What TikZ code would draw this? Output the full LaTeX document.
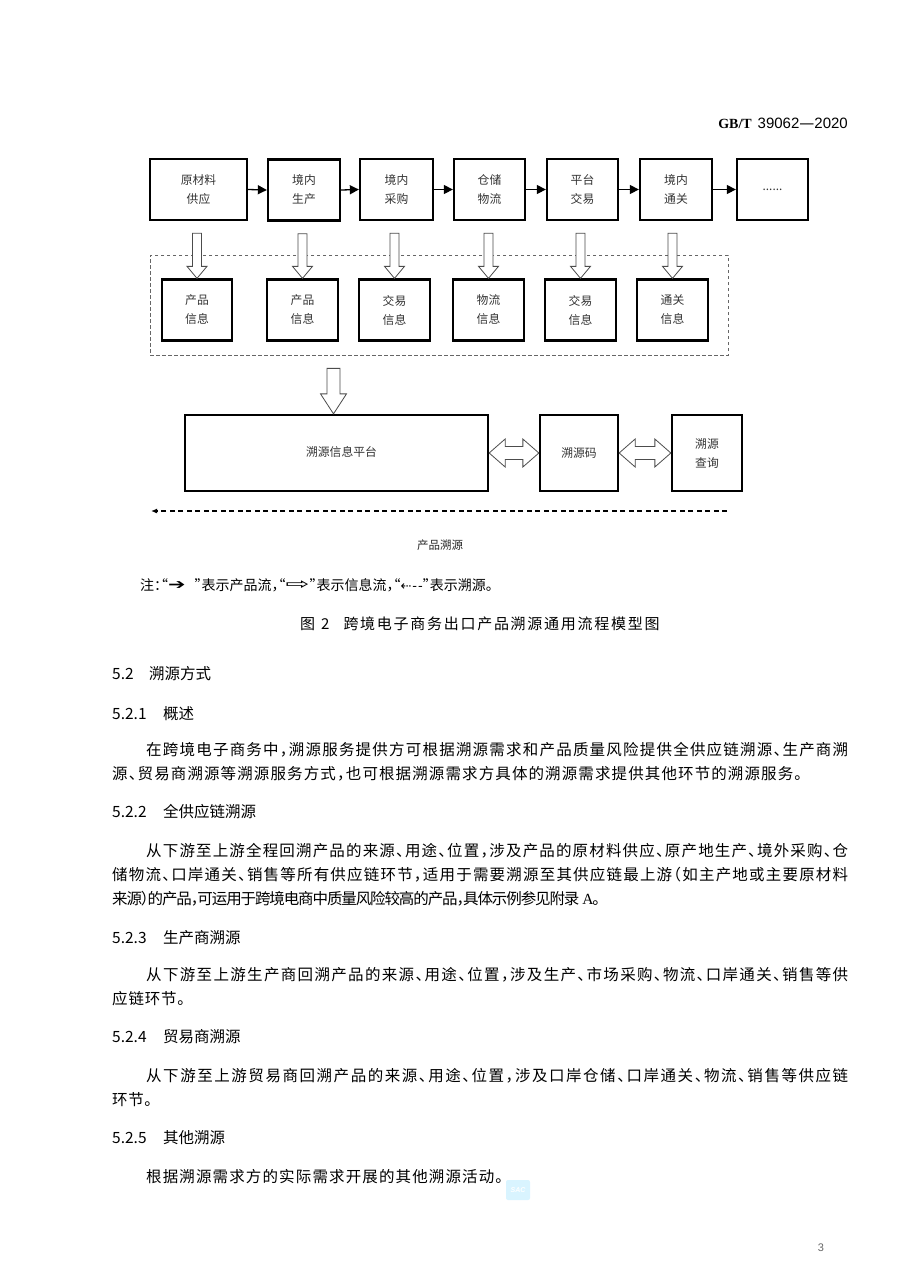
\documentclass[tikz,border=0pt]{standalone}
\usepackage{fontspec}
\setmainfont{Liberation Serif}
\newfontfamily\cjk[RawFeature=+halt]{Noto Sans CJK SC}
\newfontfamily\symf{DejaVu Sans}
\newfontfamily\lsans{Liberation Sans}
\usetikzlibrary{arrows.meta,calc}

\makeatletter
\def\jendmark{\jendmark}
\def\jfirst#1{#1\jrest}
\def\jrest#1{\def\jtmp{#1}\ifx\jtmp\jendmark\else\hskip0pt plus 1fil minus 0.3em\relax#1\expandafter\jrest\fi}
\newcommand\jl[2]{\hbox to #1{\jfirst#2\jendmark}}
\makeatother

\newcommand\hdown[5]{%
  \draw[hollow] let \p1=(#1), \p2=(#2) in
   (\x2-#3,\y1) -- (\x2+#3,\y1) -- (\x2+#3,\y2+#5) -- (\x2+#4,\y2+#5) -- (\x2,\y2)
   -- (\x2-#4,\y2+#5) -- (\x2-#3,\y2+#5) -- cycle;}
\newcommand\hdouble[5]{%
  \draw[hollow] let \p1=(#1), \p2=(#2) in
   (\x1,\y1) -- (\x1+#5,\y1+#4) -- (\x1+#5,\y1+#3) -- (\x2-#5,\y1+#3) -- (\x2-#5,\y1+#4)
   -- (\x2,\y1) -- (\x2-#5,\y1-#4) -- (\x2-#5,\y1-#3) -- (\x1+#5,\y1-#3) -- (\x1+#5,\y1-#4) -- cycle;}

\tikzset{
  pbox/.style={draw, line width=2.3pt, inner sep=0pt, align=center,
    font=\cjk\fontsize{11.8}{19}\selectfont, text=black!80},
  topbox/.style={pbox, minimum height=61pt},
  infobox/.style={pbox, minimum width=70pt, minimum height=61pt},
  hollow/.style={draw=black!70, line width=0.8pt, fill=white, line join=miter},
  parr/.style={line width=1.3pt, -{Triangle[length=9pt,width=9pt]}},
  grpbox/.style={draw=black!60, dashed, dash pattern=on 3.5pt off 2.5pt, line width=0.7pt, inner sep=0pt},
  trace/.style={line width=1.2pt, dash pattern=on 5pt off 3.5pt, -{Latex[length=6pt,width=5pt]}},
  body/.style={anchor=west, inner sep=0pt, font=\cjk\fontsize{15.5}{18}\selectfont},
  head/.style={anchor=west, inner sep=0pt, font=\cjk\fontsize{15.5}{18}\selectfont},
  small/.style={inner sep=0pt, font=\cjk\fontsize{11.5}{14}\selectfont, text=black!85},
}

\begin{document}
\begin{tikzpicture}[x=1pt,y=-1pt]
\useasboundingbox[fill=white] (0,0) rectangle (922,1280);

% header
\node[anchor=east, inner sep=0pt] (hdr) at (848,123)
  {{\fontsize{14}{16}\selectfont\bfseries GB/T}\hspace{6pt}{\lsans\fontsize{15}{16}\selectfont 39062\symf—\lsans 2020}};

% top row
\node[topbox, minimum width=97pt] (b1) at (198.5,189.5) {原材料\\供应};
\node[topbox, minimum width=72pt] (b2) at (304,190) {境内\\生产};
\node[topbox, minimum width=73pt] (b3) at (396.5,189.5) {境内\\采购};
\node[topbox, minimum width=71pt] (b4) at (489.5,189.5) {仓储\\物流};
\node[topbox, minimum width=71pt] (b5) at (582.5,189.5) {平台\\交易};
\node[topbox, minimum width=72pt] (b6) at (676,189.5) {境内\\通关};
\node[topbox, minimum width=71pt] (b7) at (772.5,189.5) {......};

\draw[parr] (b1.east) -- (b2.west);
\draw[parr] (b2.east) -- (b3.west);
\draw[parr] (b3.east) -- (b4.west);
\draw[parr] (b4.east) -- (b5.west);
\draw[parr] (b5.east) -- (b6.west);
\draw[parr] (b6.east) -- (b7.west);

% information group
\node[grpbox, minimum width=578pt, minimum height=100pt] (grp) at (439,305) {};
\node[infobox] (i1) at (197,310) {产品\\信息};
\node[infobox, minimum width=71pt] (i2) at (302.5,310) {产品\\信息};
\node[infobox, minimum width=71pt] (i3) at (394.5,310) {交易\\信息};
\node[infobox, minimum width=71pt] (i4) at (488.5,310) {物流\\信息};
\node[infobox, minimum width=71pt] (i5) at (580.5,310) {交易\\信息};
\node[infobox, minimum width=71pt] (i6) at (672.5,310) {通关\\信息};

\hdown{$(b1.south)+(0,12)$}{i1.north}{4.5pt}{10pt}{12pt}
\hdown{$(b2.south)+(0,12)$}{i2.north}{4.5pt}{10pt}{12pt}
\hdown{$(b3.south)+(0,12)$}{i3.north}{4.5pt}{10pt}{12pt}
\hdown{$(b4.south)+(0,12)$}{i4.north}{4.5pt}{10pt}{12pt}
\hdown{$(b5.south)+(0,12)$}{i5.north}{4.5pt}{10pt}{12pt}
\hdown{$(b6.south)+(0,12)$}{i6.north}{4.5pt}{10pt}{12pt}

% platform row
\node[pbox, minimum width=303pt, minimum height=76pt] (P) at (336.5,453) {\raisebox{4pt}{\hspace*{10pt}溯源信息平台}};
\node[pbox, minimum width=78pt, minimum height=76pt] (C) at (579,453) {溯源码};
\node[pbox, minimum width=70pt, minimum height=76pt] (Q) at (707,453) {溯源\\查询};

\hdown{$(grp.south)+(0,13)$}{$(P.north)+(-3,0)$}{6.5pt}{13pt}{20pt}
\hdouble{P.east}{C.west}{6.5pt}{14pt}{16pt}
\hdouble{C.east}{Q.west}{6.5pt}{14pt}{16pt}

\coordinate (trS) at (727,511);
\coordinate (trE) at (151,511);
\draw[trace] (trS) -- (trE);
\node[small] (lbl) at (440,545) {产品溯源};

% note
\node[anchor=west, inner sep=0pt, font=\cjk\fontsize{14}{16}\selectfont] (note) at (140,585)
  {注：“\raisebox{0.5pt}{\scalebox{1.6}[1.1]{\symf\fontsize{13}{14}\selectfont ➔}}\hspace{9pt}”表示产品流，“\raisebox{0.5pt}{\scalebox{2.2}[1.2]{\symf\fontsize{13}{14}\selectfont ⇨}}”表示信息流，“{\symf\fontsize{13}{14}\selectfont ⇠\hspace{1pt}-\hspace{1pt}-}”表示溯源。};

% caption
\node[anchor=west, inner sep=0pt, font=\cjk\fontsize{15}{16}\selectfont] (cap) at (300,624)
  {图\hspace{6pt}2\hspace{14pt}\jl{316pt}{跨境电子商务出口产品溯源通用流程模型图}};

% body text
\node[head] (h52) at (112,674) {\makebox[37pt][l]{5.2}溯源方式};
\node[head] (h521) at (112,714) {\makebox[51pt][l]{5.2.1}概述};
\node[body] (p1a) at (146,750) {\jl{702pt}{在跨境电子商务中，溯源服务提供方可根据溯源需求和产品质量风险提供全供应链溯源、生产商溯}};
\node[body] (p1b) at (112,774) {\jl{690pt}{源、贸易商溯源等溯源服务方式，也可根据溯源需求方具体的溯源需求提供其他环节的溯源服务。}};

\node[head] (h522) at (112,812) {\makebox[51pt][l]{5.2.2}全供应链溯源};
\node[body] (p2a) at (146,851) {\jl{702pt}{从下游至上游全程回溯产品的来源、用途、位置，涉及产品的原材料供应、原产地生产、境外采购、仓}};
\node[body] (p2b) at (112,875) {\jl{736pt}{储物流、口岸通关、销售等所有供应链环节，适用于需要溯源至其供应链最上游（如主产地或主要原材料}};
\node[body] (p2c) at (112,899) {\jl{488pt}{来源）的产品，可运用于跨境电商中质量风险较高的产品，具体示例参见附录{\hspace{4pt}{\rmfamily A}}。}};

\node[head] (h523) at (112,938) {\makebox[51pt][l]{5.2.3}生产商溯源};
\node[body] (p3a) at (146,975) {\jl{702pt}{从下游至上游生产商回溯产品的来源、用途、位置，涉及生产、市场采购、物流、口岸通关、销售等供}};
\node[body] (p3b) at (112,999) {\jl{73pt}{应链环节。}};

\node[head] (h524) at (112,1037) {\makebox[51pt][l]{5.2.4}贸易商溯源};
\node[body] (p4a) at (146,1076) {\jl{702pt}{从下游至上游贸易商回溯产品的来源、用途、位置，涉及口岸仓储、口岸通关、物流、销售等供应链}};
\node[body] (p4b) at (112,1100) {\jl{40pt}{环节。}};

\node[head] (h525) at (112,1138) {\makebox[51pt][l]{5.2.5}其他溯源};
\node[body] (p5a) at (146,1177) {\jl{357pt}{根据溯源需求方的实际需求开展的其他溯源活动。}};

% watermark logo
\node[fill=blue!30!cyan!15, rounded corners=2pt, minimum width=24pt, minimum height=20pt, inner sep=0pt,
  text=white, font=\lsans\bfseries\itshape\fontsize{7}{8}\selectfont] (sac) at (518,1190) {SAC};

% page number
\node[inner sep=0pt, text=black!60, font=\lsans\fontsize{11}{12}\selectfont] (pg) at (821,1248) {3};
\end{tikzpicture}
\end{document}
